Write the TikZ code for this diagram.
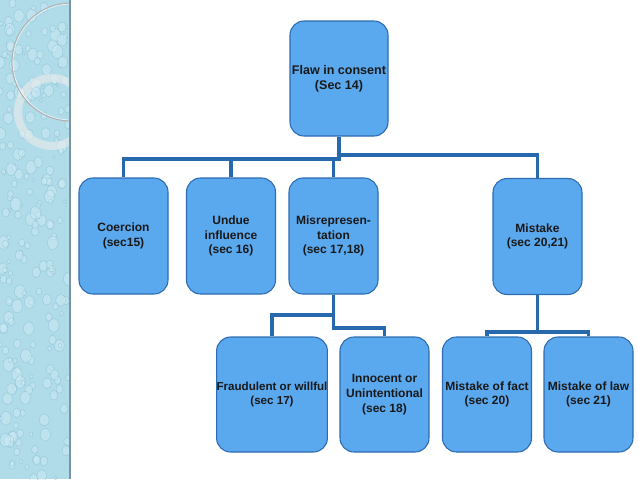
\documentclass[tikz,border=0pt]{standalone}
\usepackage{fontspec}
\setmainfont{Liberation Sans}
\definecolor{stripbg}{RGB}{176,220,233}
\definecolor{stripdark}{RGB}{120,180,203}
\definecolor{striplight}{RGB}{212,238,246}
\definecolor{stripedge}{RGB}{120,150,162}
\definecolor{boxfill}{RGB}{90,168,238}
\definecolor{boxborder}{RGB}{45,108,178}
\definecolor{linecol}{RGB}{40,104,172}
\tikzset{
  box/.style={draw=boxborder, line width=0.8pt, fill=boxfill, rounded corners=10.5pt,
    minimum width=66.75pt, minimum height=87pt, align=center, inner sep=0pt,
    font=\bfseries\fontsize{9}{11}\selectfont, text=black!90},
  conn/.style={draw=linecol, line width=2.3pt},
  drop/.style={fill=striplight, fill opacity=0.4, draw=stripdark, draw opacity=0.45, line width=0.4pt}
}
\begin{document}
\begin{tikzpicture}[x=0.75pt,y=-0.75pt]
\useasboundingbox (0,0) rectangle (638,479);
\fill[white] (0,0) rectangle (638,479);
% decorative strip
\begin{scope}
\clip (0,0) rectangle (69,479);
\fill[stripbg] (0,0) rectangle (69,479);
\pgfmathsetseed{7}
\foreach \i in {1,...,220}{
  \pgfmathsetmacro{\dx}{rnd*69}
  \pgfmathsetmacro{\dy}{rnd*479}
  \pgfmathsetmacro{\dr}{1.0+rnd*3.2}
  \path[drop] (\dx,\dy) ellipse [x radius=\dr pt, y radius=1.25*\dr pt];
}
\draw[white!85!gray, opacity=0.6, line width=6pt] (52,112) circle [radius=25.5pt];
\draw[black!30, line width=0.9pt] (71,62) circle [radius=44.25pt];
\draw[white, opacity=0.7, line width=0.5pt] (71,62) circle [radius=43.5pt];
\end{scope}
\fill[stripedge] (68.5,0) rectangle (70.5,479);

% nodes
\node[box, minimum width=73.5pt, minimum height=86.25pt, font=\bfseries\fontsize{9.4}{11}\selectfont] (top) at (339,78.5) {Flaw in consent\\(Sec 14)};
\node[box] (coercion) at (123.5,236) {Coercion\\(sec15)};
\node[box] (undue) at (231,236) {Undue\\influence\\(sec 16)};
\node[box] (misrep) at (333.5,236) {Misrepresen-\\tation\\(sec 17,18)};
\node[box] (mistake) at (537.5,236.5) {Mistake\\(sec 20,21)};
\node[box, minimum width=82.5pt, minimum height=86.25pt, font=\bfseries\fontsize{8.7}{11}\selectfont] (fraud) at (272,394.5) {Fraudulent or willful\\(sec 17)};
\node[box, minimum height=86.25pt] (innocent) at (384.5,394.5) {Innocent or\\Unintentional\\(sec 18)};
\node[box, minimum height=86.25pt] (fact) at (487,394.5) {Mistake of fact\\(sec 20)};
\node[box, minimum height=86.25pt] (law) at (588.5,394.5) {Mistake of law\\(sec 21)};

% connectors
\coordinate (barR) at (0,155);
\coordinate (barL) at (0,159);
\coordinate (barM1) at (0,315);
\coordinate (barM2) at (0,328);
\coordinate (barK) at (0,332);
\draw[conn] (top.south) -- (top.south |- barR) -| (mistake.north);
\draw[conn] (top.south |- barR) -- (top.south |- barL) -| (coercion.north);
\draw[conn] (undue.north) -- (undue.north |- barL);
\draw[conn] (misrep.north) -- (misrep.north |- barL);
\draw[conn] (misrep.south) -- (misrep.south |- barM2) -| (innocent.north);
\draw[conn] (misrep.south |- barM1) -| (fraud.north);
\draw[conn] (mistake.south) -- (mistake.south |- barK) -| (law.north);
\draw[conn] (mistake.south |- barK) -| (fact.north);
\end{tikzpicture}
\end{document}
